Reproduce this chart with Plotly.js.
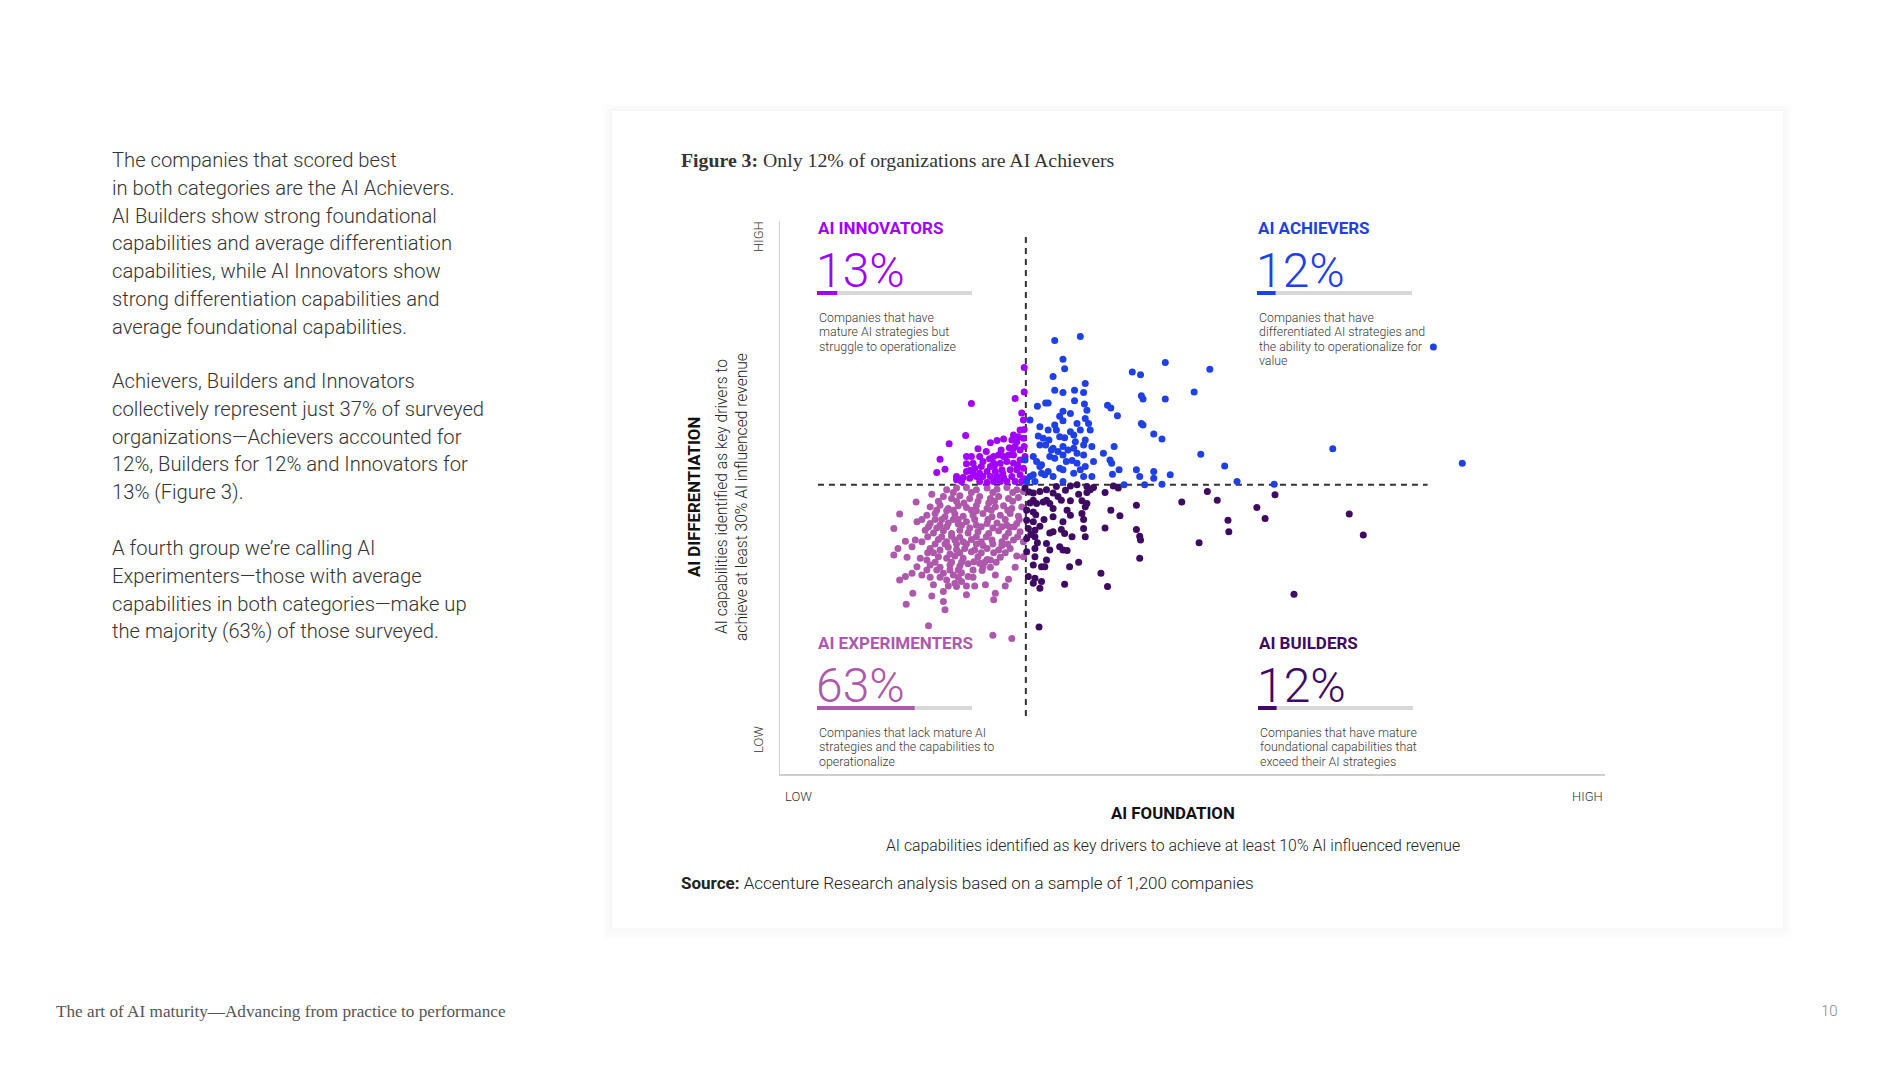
<!DOCTYPE html>
<html><head><meta charset="utf-8">
<script src="https://cdn.plot.ly/plotly-3.0.1.min.js"></script>
<style>html,body{margin:0;padding:0;background:#fff;overflow:hidden}#chart{width:1897px;height:1067px}</style>
</head><body><div id="chart"></div>
<script>
// ---------------- DATA (scores, 0-100 scale on both axes) ----------------
const innovatorsX = [29.6,29.6,28.5,23.2,29.3,29.5,29.6,22.5,20.5,25.5,26.3,27.1,28.3,28.9,29.5,28.5,29.1,29.6,19.4,20.0,19.0,22.6,23.2,24.2,22.6,23.4,24.4,25.5,25.9,26.5,27.1,27.7,28.3,25.9,26.7,27.5,28.3,29.1,29.7,22.6,23.4,24.2,25.1,26.1,26.9,27.9,28.7,29.5,21.4,22.2,23.0,23.8,24.6,25.5,26.3,27.1,28.1,29.1,22.0,24.2,25.1,25.9,26.7,27.5,28.5,29.3,23.6,24.6,21.4,28.7,28.1,29.1,
 26.8,27.8,25.0,24.0,28.8,26.0,29.6,23.0,27.0,25.4,28.2];
const innovatorsY = [73.5,69.1,67.9,67.0,65.3,64.0,62.3,61.2,59.7,59.9,60.3,60.6,61.3,61.0,60.7,59.2,58.6,59.2,56.9,55.1,54.5,57.4,57.4,57.4,56.1,56.2,55.6,55.6,57.4,57.7,57.4,57.7,57.7,56.2,56.2,56.5,56.2,56.8,57.4,54.7,54.4,54.4,54.7,54.7,55.0,55.0,55.0,55.3,53.8,53.6,53.5,53.8,53.8,53.8,53.8,53.6,53.8,54.1,52.9,52.9,52.7,52.9,52.9,52.9,52.9,52.9,55.3,56.5,53.2,60.1,60.4,62.2,
 58.6,59.0,58.3,58.8,55.8,55.8,53.4,54.9,54.4,57.0,58.7];

const achieversX = [33.3,36.4,34.3,34.5,46.7,52.1,42.7,43.7,33.1,37.0,33.3,34.3,35.7,36.8,50.2,43.8,44.0,46.7,35.7,31.2,32.2,32.5,36.9,37.2,39.7,40.1,40.9,34.3,33.9,34.3,36.0,37.0,37.4,30.3,43.8,44.0,33.3,33.5,36.4,45.3,46.3,31.3,31.9,32.6,33.9,34.5,35.8,37.0,36.8,37.8,31.5,32.2,33.1,34.3,34.9,35.6,36.0,40.5,39.2,40.0,40.2,30.7,31.1,31.7,32.7,33.3,34.3,35.4,36.8,51.0,53.9,37.0,36.4,33.9,34.3,32.5,30.7,30.3,31.7,32.1,33.1,35.6,36.8,37.8,41.1,40.3,43.2,43.6,45.3,45.3,47.3,55.4,59.9,41.7,44.2,46.3,29.9,30.9,34.3,29.7,67.0,82.7,79.2,31.5,32.5,35.2,35.6,32.9,33.7,34.7,36.0,31.5,38.0,37.6,35.2];
const achieversY = [78.4,79.1,75.0,73.3,74.4,73.2,72.7,72.2,71.9,70.6,69.4,69.0,69.4,69.0,69.1,68.4,67.8,67.8,67.5,66.5,67.1,67.1,66.9,65.8,66.7,66.2,64.8,65.6,64.7,63.9,63.4,64.3,63.4,64.0,63.4,63.1,63.1,62.2,62.2,61.5,60.6,61.1,60.7,60.4,61.0,60.8,60.1,60.4,59.5,59.2,59.5,59.5,58.9,59.2,58.6,58.9,58.0,59.2,58.0,56.8,56.2,57.4,56.5,55.9,57.4,57.1,57.7,56.7,57.7,57.8,55.7,55.6,55.0,55.3,55.0,54.7,54.1,53.8,54.4,54.1,53.8,54.4,53.8,53.8,55.0,54.2,55.0,53.8,54.7,53.5,54.1,52.9,52.4,52.3,52.3,52.4,52.9,52.9,52.9,56.8,58.8,56.2,77.2,62.8,62.2,61.9,61.3,58.6,58.3,56.5,56.2,55.6,56.5,62.2,65.2];

const experimentersX = [18.4,16.5,14.5,13.8,15.2,14.3,13.8,16.0,15.4,14.5,15.2,16.1,15.3,18.4,20.0,19.8,18.0,25.8,28.1,22.6,25.9,26.1,24.9,27.3,27.7,28.5,29.5,26.1,24.6,25.5,
 20.2,21.4,22.6,23.8,25.1,26.3,27.5,28.7,29.5,19.8,20.8,21.8,23.0,24.2,25.5,26.5,27.7,28.9,18.2,19.4,20.4,21.6,22.6,23.8,25.1,26.1,27.1,28.1,29.3,17.8,18.8,20.0,21.2,22.2,23.4,24.6,25.7,26.7,27.9,28.9,16.6,18.2,19.4,20.4,21.6,22.6,23.8,25.1,26.3,27.5,28.7,17.6,18.6,19.8,20.8,21.8,22.8,24.0,25.3,26.5,27.7,29.1,16.4,17.2,19.2,20.2,21.2,22.2,23.2,24.4,25.7,26.9,28.3,29.5,18.2,19.4,20.4,21.4,22.4,23.6,25.1,26.5,27.9,17.0,17.8,19.2,20.2,21.2,22.2,24.0,25.1,26.7,28.7,16.6,18.2,19.4,20.6,21.8,22.8,24.2,25.5,16.0,17.2,19.8,21.0,22.0,22.8,20.2,21.2,22.0,18.6,19.8,21.4,
 21.0,22.0,23.0,20.8,21.8,22.6,20.6,23.2,24.6,19.0,23.8,25.8,26.9,27.9,25.3,22.3,20.2,18.8,17.9,24.5,23.5,
 19.0,21.0,23.2,25.6,27.6,17.2,19.6,21.6,23.6,25.2,27.3,29.0,18.0,20.2,24.4,26.9,28.4,17.9,19.6,23.8,25.0,27.3,28.8,18.8,20.0,21.4,23.8,25.8,27.6,18.6,21.8,24.4,25.9,27.3,18.8,20.8,22.0,24.8,26.2,17.8,19.0,20.6,21.6,23.4,18.2,19.4,21.6,23.4,20.4,22.6,23.6,19.2,21.4,24.0,26.0,28.2,21.0,23.2,25.8,28.2];
const experimentersY = [50.6,49.2,47.0,44.4,42.1,40.8,39.6,41.1,39.2,35.1,35.7,32.7,30.7,32.2,29.7,31.2,26.8,25.1,24.5,32.4,31.5,32.7,34.2,34.0,35.2,37.4,39.3,36.0,37.5,38.7,
 51.4,51.7,51.8,51.4,51.7,51.5,51.8,51.4,51.1,50.2,49.8,50.3,49.8,50.2,49.8,50.2,49.8,50.0,48.3,48.6,48.0,48.5,48.2,48.5,48.0,48.3,48.5,48.0,48.3,46.8,47.1,46.5,47.0,46.6,46.8,47.1,46.5,46.8,47.1,46.6,45.6,45.3,45.0,45.4,45.2,45.6,45.0,45.3,45.4,45.0,45.3,44.1,43.6,44.0,43.5,44.1,43.6,43.8,43.5,44.0,43.6,43.8,42.3,42.0,42.4,42.0,42.3,42.0,42.4,42.0,42.3,42.0,42.3,42.0,40.8,40.5,41.0,40.6,40.8,40.5,40.8,40.5,40.8,39.0,38.7,39.3,39.0,39.4,39.0,39.3,38.8,39.2,39.4,37.5,37.8,37.4,37.8,37.6,38.0,38.1,37.4,36.3,36.0,36.3,36.0,36.4,35.7,35.1,34.5,34.8,34.2,33.0,33.9,
 46.0,45.0,44.5,43.0,42.8,41.6,39.8,40.2,41.3,44.5,47.6,44.5,41.3,44.6,49.0,49.0,47.6,46.0,40.0,36.8,38.4,
 47.7,47.7,47.7,47.7,47.7,46.0,46.0,46.0,46.0,46.0,46.0,46.0,44.7,44.7,44.7,44.7,44.7,42.9,42.9,42.9,42.9,42.9,42.9,41.6,41.6,41.6,41.6,41.6,41.6,40.0,40.0,40.0,40.0,40.0,38.3,38.3,38.3,38.3,38.3,36.9,36.9,36.9,36.9,36.9,35.6,35.6,35.6,35.6,34.0,34.0,34.0,49.3,49.3,49.3,49.3,49.3,50.9,50.9,50.9,50.9];

const buildersX = [29.7,30.7,31.5,32.3,33.1,33.5,35.2,36.0,37.2,37.6,37.2,39.4,40.4,41.0,30.7,31.1,31.9,32.7,32.3,34.1,35.2,36.6,37.2,37.0,43.2,48.7,51.8,53.0,57.8,58.8,60.0,54.3,54.4,50.8,29.9,30.7,33.1,33.1,34.8,35.2,36.6,36.8,40.1,41.2,29.9,30.7,30.1,30.9,32.7,33.1,34.3,34.1,34.5,35.4,37.0,36.8,39.4,43.2,43.6,43.7,29.9,30.9,30.9,30.9,32.3,32.7,32.3,33.9,34.3,34.8,29.9,30.7,31.7,32.1,35.1,36.2,38.9,30.1,30.9,30.7,31.5,31.7,34.5,39.7,43.6,31.4,69.0,70.7,62.3,30.3,31.0,32.0,31.5,30.4,31.2,33.7,34.6,36.2,38.0,30.2];
const buildersY = [51.7,50.8,51.1,51.4,50.8,52.0,52.1,52.3,52.0,51.4,50.9,50.9,52.1,51.7,49.5,48.9,49.2,48.9,49.5,49.5,49.4,49.4,48.9,48.3,48.6,49.2,51.1,49.5,48.2,46.2,50.5,45.9,43.8,41.8,47.7,47.4,48.0,46.5,47.7,46.8,47.1,46.0,47.7,46.7,45.9,45.6,44.4,44.1,43.6,43.8,45.6,44.2,43.5,42.9,42.9,44.4,44.5,44.2,43.0,42.3,42.6,42.9,40.8,39.3,41.7,40.5,38.7,41.1,40.5,40.4,40.2,37.8,37.5,37.5,37.5,38.3,36.3,35.7,35.4,34.5,33.6,34.8,34.3,33.9,39.0,26.6,47.0,43.2,32.5,49.0,46.9,46.0,44.8,43.3,41.8,50.2,51.3,50.6,51.8,51.0];

const foundationThreshold = 29.8;       // vertical dashed split (x score)
const differentiationThreshold = 52.3;  // horizontal dashed split (y score)

const quadrantNames = ['AI INNOVATORS','AI ACHIEVERS','AI EXPERIMENTERS','AI BUILDERS'];
const quadrantShares = [13, 12, 63, 12];
const quadrantDescriptions = [
  ['Companies that have','mature AI strategies but','struggle to operationalize'],
  ['Companies that have','differentiated AI strategies and','the ability to operationalize for','value'],
  ['Companies that lack mature AI','strategies and the capabilities to','operationalize'],
  ['Companies that have mature','foundational capabilities that','exceed their AI strategies']
];
const axisEndLabels = ['LOW','HIGH'];

const bodyParagraphs = [
  ['The companies that scored best','in both categories are the AI Achievers.','AI Builders show strong foundational','capabilities and average differentiation','capabilities, while AI Innovators show','strong differentiation capabilities and','average foundational capabilities.'],
  ['Achievers, Builders and Innovators','collectively represent just 37% of surveyed','organizations\u2014Achievers accounted for','12%, Builders for 12% and Innovators for','13% (Figure 3).'],
  ['A fourth group we\u2019re calling AI','Experimenters\u2014those with average','capabilities in both categories\u2014make up','the majority (63%) of those surveyed.']
];

// ---------------- STYLE / LAYOUT ----------------
const COLORS = {innov:'#A100FF', achiev:'#1F40E6', exper:'#AE58AC', build:'#3E0A62'};
const quadColors = [COLORS.innov, COLORS.achiev, COLORS.exper, COLORS.build];
const SANS = 'Roboto, "Open Sans", "Liberation Sans", sans-serif';
const SERIF = '"Liberation Serif", "DejaVu Serif", serif';
const W = 1897, H = 1067;
const L = 780, R = 1605, T = 221, B = 774;   // plot area in pixels
const px = x => (x - L) / (R - L);
const py = y => (B - y) / (B - T);

const annotations = [];
const shapes = [];
function txt(text, x, y, font, extra) {
  annotations.push(Object.assign({xref:'paper', yref:'paper', x:px(x), y:py(y), text:text, showarrow:false,
    xanchor:'left', yanchor:'middle', font:Object.assign({family:SANS, size:12, color:'#333'}, font)}, extra || {}));
}

// card with faint shadow
for (let i = 8; i >= 1; i--) {
  shapes.push({type:'rect', xref:'paper', yref:'paper', layer:'below', line:{width:0},
    x0:px(612 - i*1.2), x1:px(1783 + i*1.2), y0:py(111 - i*1.1), y1:py(928 + i*1.5),
    fillcolor:'rgba(0,0,0,0.005)'});
}
shapes.push({type:'rect', xref:'paper', yref:'paper', layer:'below', line:{width:0},
  x0:px(612), x1:px(1783), y0:py(111), y1:py(928), fillcolor:'#ffffff'});

// dashed thresholds
shapes.push({type:'line', xref:'x', yref:'y', layer:'below', x0:foundationThreshold, x1:foundationThreshold, y0:10.5, y1:97.3,
  line:{color:'#333', width:2, dash:'6px,5px'}});
shapes.push({type:'line', xref:'x', yref:'y', layer:'below', x0:4.6, x1:78.5, y0:differentiationThreshold, y1:differentiationThreshold,
  line:{color:'#333', width:2, dash:'6px,5px'}});

// quadrant labels
const anchors = [[817,228],[1257,228],[817,643],[1258,643]];
const BARLEN = 155;
quadrantNames.forEach((name, i) => {
  const [ax, ay] = anchors[i];
  txt('<b>' + name + '</b>', ax - 1, ay, {size:17, color:quadColors[i]});
  txt(quadrantShares[i] + '%', ax - 3, ay + 42, {size:48, color:quadColors[i], weight:300});
  shapes.push({type:'line', xref:'paper', yref:'paper', x0:px(ax), x1:px(ax + BARLEN), y0:py(ay + 65), y1:py(ay + 65),
    line:{color:'#d8d8d8', width:4}});
  shapes.push({type:'line', xref:'paper', yref:'paper', x0:px(ax), x1:px(ax + BARLEN * quadrantShares[i] / 100), y0:py(ay + 65), y1:py(ay + 65),
    line:{color:quadColors[i], width:4}});
  quadrantDescriptions[i].forEach((line, k) => {
    txt(line, ax, ay + 89 + k * 14.6, {size:12.4, color:'#3a3a3a', weight:300});
  });
});

// axis end labels
txt(axisEndLabels[0], 783, 796, {size:13, color:'#333', weight:300});
txt(axisEndLabels[1], 1605, 796, {size:13, color:'#333', weight:300}, {xanchor:'right'});
txt(axisEndLabels[1], 758, 237, {size:13, color:'#333', weight:300}, {xanchor:'center', textangle:-90});
txt(axisEndLabels[0], 758, 740, {size:13, color:'#333', weight:300}, {xanchor:'center', textangle:-90});

// axis titles
txt('<b>AI FOUNDATION</b>', 1173, 813, {size:16.8, color:'#111'}, {xanchor:'center'});
txt('AI capabilities identified as key drivers to achieve at least 10% AI influenced revenue', 1173, 845, {size:15.8, color:'#222', weight:300}, {xanchor:'center'});
txt('<b>AI DIFFERENTIATION</b>', 694, 497, {size:16.8, color:'#111'}, {xanchor:'center', textangle:-90});
txt('AI capabilities identified as key drivers to', 722, 497, {size:15.6, color:'#222', weight:300}, {xanchor:'center', textangle:-90});
txt('achieve at least 30% AI influenced revenue', 742, 497, {size:15.6, color:'#222', weight:300}, {xanchor:'center', textangle:-90});

// figure title and source
txt('<b>Figure 3:</b> Only 12% of organizations are AI Achievers', 679, 160, {family:SERIF, size:19.8, color:'#333'});
txt('<b>Source:</b> Accenture Research analysis based on a sample of 1,200 companies', 679, 883, {size:17, color:'#222', weight:300});

// left body text
let lineY = [160, 381, 548];
bodyParagraphs.forEach((para, p) => {
  para.forEach((line, k) => {
    txt(line, 110, lineY[p] + k * 27.8, {size:20.2, color:'#333', weight:300});
  });
});

// footer
txt('The art of AI maturity\u2014Advancing from practice to performance', 54, 1011, {family:SERIF, size:17.2, color:'#555'});
txt('10', 1840, 1011, {size:15, color:'#888', weight:300}, {xanchor:'right'});

const marker = c => ({color:c, size:7, line:{width:0}});
const traces = [
  {type:'scatter', mode:'markers', name:'AI Experimenters', x:experimentersX, y:experimentersY, marker:marker(COLORS.exper)},
  {type:'scatter', mode:'markers', name:'AI Builders', x:buildersX, y:buildersY, marker:marker(COLORS.build)},
  {type:'scatter', mode:'markers', name:'AI Innovators', x:innovatorsX, y:innovatorsY, marker:marker(COLORS.innov)},
  {type:'scatter', mode:'markers', name:'AI Achievers', x:achieversX, y:achieversY, marker:marker(COLORS.achiev)}
];

const layout = {
  width:W, height:H, autosize:false, showlegend:false,
  margin:{l:L, r:W - R, t:T, b:H - B, pad:0},
  paper_bgcolor:'#ffffff', plot_bgcolor:'rgba(0,0,0,0)',
  xaxis:{range:[0,100], showgrid:false, zeroline:false, showticklabels:false, ticks:'', showline:true, linecolor:'#cfcfcf', linewidth:1.5, fixedrange:true},
  yaxis:{range:[0,100], showgrid:false, zeroline:false, showticklabels:false, ticks:'', showline:true, linecolor:'#cfcfcf', linewidth:1.5, fixedrange:true},
  annotations:annotations, shapes:shapes, hovermode:false
};
Plotly.newPlot('chart', traces, layout, {staticPlot:true, displayModeBar:false});
</script></body></html>
